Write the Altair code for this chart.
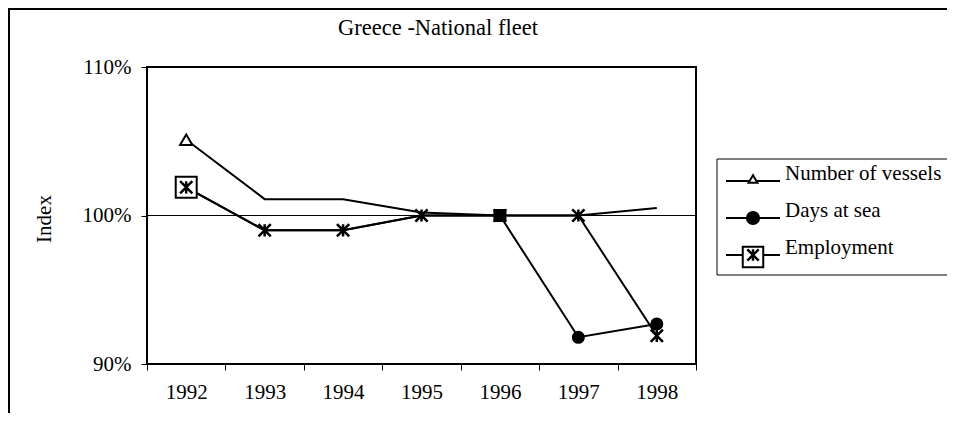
import altair as alt
import pandas as pd

years = ["1992", "1993", "1994", "1995", "1996", "1997", "1998"]
vessels = [105.1, 101.1, 101.1, 100.2, 100.0, 100.0, 100.5]
days_at_sea = [101.9, 99.0, 99.0, 100.0, 100.0, 91.8, 92.7]
employment = [101.9, 99.0, 99.0, 100.0, 100.0, 100.0, 91.9]
series_names = ["Number of vessels", "Days at sea", "Employment"]
y_ticks = [90, 100, 110]
title_text = "Greece -National fleet"
y_title = "Index"

FONT = "Liberation Serif"
ASTER = "M-1,-1L1,1M-1,1L1,-1M0,-1L0,1"

rows = []
for name, vals in zip(series_names, [vessels, days_at_sea, employment]):
    for i, (yr, v) in enumerate(zip(years, vals)):
        rows.append({"series": name, "year": yr, "value": v, "order": i})
df = pd.DataFrame(rows)

x_enc = alt.X(
    "year:O", sort=years, bandPosition=0.5,
    scale=alt.Scale(type="band", domain=years, paddingInner=0, paddingOuter=0),
    axis=alt.Axis(title=None, tickBand="extent", labelAngle=0, tickSize=6,
                  labelPadding=11, domain=False, grid=False),
)
y_enc = alt.Y(
    "value:Q",
    scale=alt.Scale(domain=[90, 110], nice=False, zero=False),
    axis=alt.Axis(title=None, values=y_ticks, labelExpr="datum.value + '%'",
                  tickSize=6, labelPadding=10, domain=False, grid=False),
)

base = alt.Chart(df)

lines = base.mark_line(color="black", strokeWidth=2).encode(
    x=x_enc, y=y_enc, detail="series:N", order="order:Q"
)

rule100 = alt.Chart(pd.DataFrame({"v": [100]})).mark_rule(color="black", strokeWidth=1).encode(
    y=alt.Y("v:Q")
)

tri = base.transform_filter(
    (alt.datum.series == "Number of vessels") & (alt.datum.year == "1992")
).mark_point(shape="triangle-up", size=150, filled=True, fill="white",
             stroke="black", strokeWidth=2, opacity=1).encode(x=x_enc, y=y_enc)

emp_sq = base.transform_filter(
    (alt.datum.series == "Employment") & (alt.datum.year == "1992")
).mark_point(shape="square", size=440, filled=True, fill="white",
             stroke="black", strokeWidth=2, opacity=1).encode(x=x_enc, y=y_enc)

emp_star = base.transform_filter(
    alt.datum.series == "Employment"
).mark_point(shape=ASTER, size=150, filled=False, stroke="black",
             strokeWidth=2.5, opacity=1).encode(x=x_enc, y=y_enc)

days_sq = base.transform_filter(
    (alt.datum.series == "Days at sea") & (alt.datum.year == "1996")
).mark_point(shape="square", size=170, filled=True, color="black",
             opacity=1).encode(x=x_enc, y=y_enc)

days_circ = base.transform_filter(
    (alt.datum.series == "Days at sea") & ((alt.datum.year == "1997") | (alt.datum.year == "1998"))
).mark_point(shape="circle", size=170, filled=True, color="black",
             opacity=1).encode(x=x_enc, y=y_enc)

one = pd.DataFrame({"t": [title_text]})
title = alt.Chart(one).mark_text(font=FONT, fontSize=22.5, color="black",
                                 baseline="alphabetic", align="center").encode(
    x=alt.value(291), y=alt.value(-32), text="t:N")

ytitle = alt.Chart(pd.DataFrame({"t": [y_title]})).mark_text(
    font=FONT, fontSize=21, color="black", baseline="middle", align="center", angle=270
).encode(x=alt.value(-102), y=alt.value(152), text="t:N")

frame_top = alt.Chart(one).mark_rule(color="black", strokeWidth=2).encode(
    x=alt.value(-139), x2=alt.value(820), y=alt.value(-58))
frame_left = alt.Chart(one).mark_rule(color="black", strokeWidth=2).encode(
    x=alt.value(-138), y=alt.value(-58), y2=alt.value(360))

legend_box = alt.Chart(one).mark_rect(fill="white", stroke="black", strokeWidth=1).encode(
    x=alt.value(570), x2=alt.value(830), y=alt.value(92), y2=alt.value(208))

legend_layers = [legend_box]
for i, name in enumerate(series_names):
    ly = 114 + 37 * i
    d = pd.DataFrame({"n": [name]})
    legend_layers.append(alt.Chart(d).mark_rule(color="black", strokeWidth=2).encode(
        x=alt.value(579), x2=alt.value(633), y=alt.value(ly)))
    if i == 0:
        legend_layers.append(alt.Chart(d).mark_point(
            shape="triangle-up", size=80, filled=True, fill="white", stroke="black",
            strokeWidth=2, opacity=1).encode(x=alt.value(606), y=alt.value(ly - 2)))
    elif i == 1:
        legend_layers.append(alt.Chart(d).mark_point(
            shape="circle", size=200, filled=True, color="black", opacity=1).encode(
            x=alt.value(606), y=alt.value(ly)))
    else:
        legend_layers.append(alt.Chart(d).mark_point(
            shape="square", size=420, filled=True, fill="white", stroke="black",
            strokeWidth=2, opacity=1).encode(x=alt.value(606), y=alt.value(ly + 2)))
        legend_layers.append(alt.Chart(d).mark_point(
            shape=ASTER, size=130, filled=False, stroke="black", strokeWidth=2.5,
            opacity=1).encode(x=alt.value(606), y=alt.value(ly)))
    legend_layers.append(alt.Chart(d).mark_text(
        font=FONT, fontSize=21, color="black", align="left", baseline="alphabetic").encode(
        x=alt.value(638), y=alt.value(ly - 1), text="n:N"))

chart = alt.layer(
    rule100, lines, tri, emp_sq, emp_star, days_sq, days_circ,
    title, ytitle, frame_top, frame_left, *legend_layers
).properties(
    width=549, height=297,
    autosize=alt.AutoSizeParams(type="none"),
    padding={"left": 139, "top": 59, "right": 251, "bottom": 49},
).configure_view(
    stroke="black", strokeWidth=2
).configure_axis(
    labelFont=FONT, labelFontSize=21, labelColor="black", tickColor="black",
    tickWidth=1
)

chart.save("out.html", embed_options={"renderer": "svg", "actions": False})
